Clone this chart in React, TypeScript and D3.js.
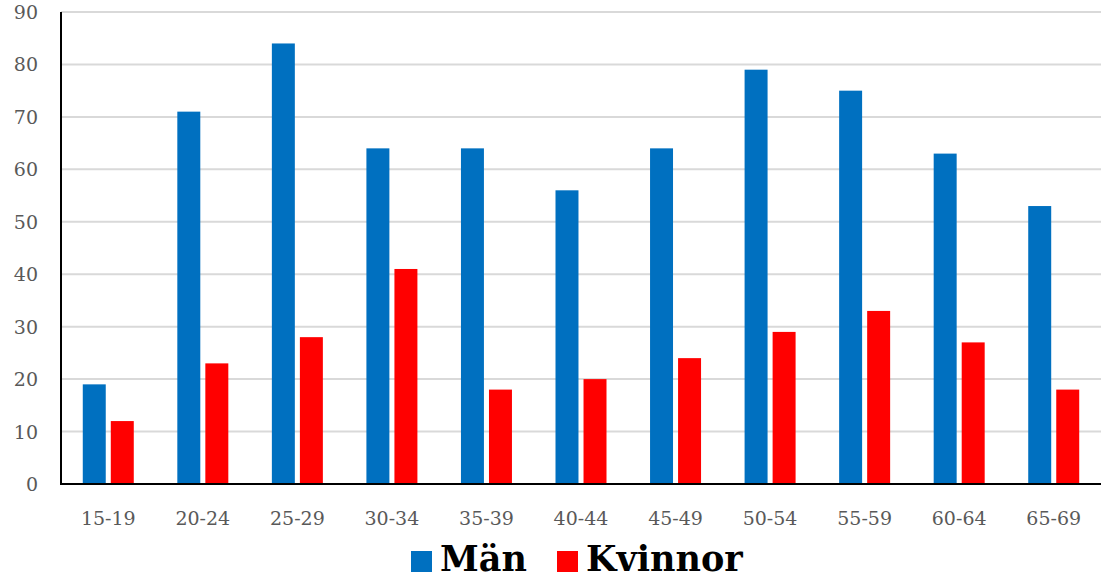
import React, { useEffect, useRef } from "react";
import * as d3 from "d3";

const categories = ["15-19", "20-24", "25-29", "30-34", "35-39", "40-44", "45-49", "50-54", "55-59", "60-64", "65-69"];
const manValues = [19, 71, 84, 64, 64, 56, 64, 79, 75, 63, 53];
const kvinnorValues = [12, 23, 28, 41, 18, 20, 24, 29, 33, 27, 18];
const yTicks = [0, 10, 20, 30, 40, 50, 60, 70, 80, 90];
const seriesNames = ["Män", "Kvinnor"];
const seriesColors = ["#0070C0", "#FF0000"];

const W = 1101;
const H = 577;

const App = () => {
  const svgRef = useRef<SVGSVGElement>(null);

  useEffect(() => {
    const svg = d3.select(svgRef.current);
    svg.selectAll("*").remove();
    const margin = { top: 12, right: 0, bottom: 93, left: 61 };
    const font = "Georgia, 'DejaVu Serif', serif";

    // ---------------------- scales
    const x = d3.scaleBand().domain(categories).range([margin.left, W - margin.right]);
    const y = d3.scaleLinear().domain([0, 90]).range([H - margin.bottom, margin.top]);
    const inner = d3.scaleBand().domain(seriesNames).range([0, 51]).paddingInner(0.18);

    // ---------------------- grid
    svg.append("g")
      .selectAll("line")
      .data(yTicks.filter(t => t > 0))
      .join("line")
      .attr("x1", margin.left)
      .attr("x2", W)
      .attr("y1", d => y(d))
      .attr("y2", d => y(d))
      .attr("stroke", "#d9d9d9")
      .attr("stroke-width", 2);

    // ---------------------- y labels
    svg.append("g")
      .selectAll("text")
      .data(yTicks)
      .join("text")
      .attr("x", 38)
      .attr("y", d => y(d) + 7)
      .attr("text-anchor", "end")
      .attr("font-family", font)
      .attr("font-size", 19)
      .attr("fill", "#595959")
      .text(d => d);

    // ---------------------- bars
    const data = categories.map((c, i) => ({ c, vals: [manValues[i], kvinnorValues[i]] }));
    svg.append("g")
      .selectAll("g")
      .data(data)
      .join("g")
      .attr("transform", d => `translate(${x(d.c)! + x.bandwidth() / 2 - 25.5},0)`)
      .selectAll("rect")
      .data(d => d.vals.map((v, i) => ({ key: seriesNames[i], v, i })))
      .join("rect")
      .attr("x", d => inner(d.key)!)
      .attr("width", inner.bandwidth())
      .attr("y", d => y(d.v))
      .attr("height", d => y(0) - y(d.v))
      .attr("fill", d => seriesColors[d.i]);

    // ---------------------- axes lines
    svg.append("line")
      .attr("x1", margin.left).attr("x2", margin.left)
      .attr("y1", margin.top).attr("y2", y(0))
      .attr("stroke", "#000").attr("stroke-width", 2);
    svg.append("line")
      .attr("x1", margin.left - 1).attr("x2", W)
      .attr("y1", y(0)).attr("y2", y(0))
      .attr("stroke", "#000").attr("stroke-width", 2);

    // ---------------------- x labels
    svg.append("g")
      .selectAll("text")
      .data(categories)
      .join("text")
      .attr("x", d => x(d)! + x.bandwidth() / 2)
      .attr("y", 525)
      .attr("text-anchor", "middle")
      .attr("font-family", font)
      .attr("font-size", 19)
      .attr("fill", "#595959")
      .text(d => d);

    // ---------------------- legend
    const legendX = [411, 557];
    const lg = svg.append("g");
    seriesNames.forEach((name, i) => {
      lg.append("rect")
        .attr("x", legendX[i]).attr("y", 551)
        .attr("width", 21).attr("height", 21)
        .attr("fill", seriesColors[i]);
      lg.append("text")
        .attr("x", legendX[i] + 29).attr("y", 571)
        .attr("font-family", "'DejaVu Serif', Georgia, serif")
        .attr("font-weight", "bold")
        .attr("font-size", 35)
        .attr("fill", "#000")
        .text(name);
    });
  }, []);

  return (
    <svg ref={svgRef} width={W} height={H} style={{ position: "absolute", left: 0, top: 0 }} />
  );
};

export default App;
